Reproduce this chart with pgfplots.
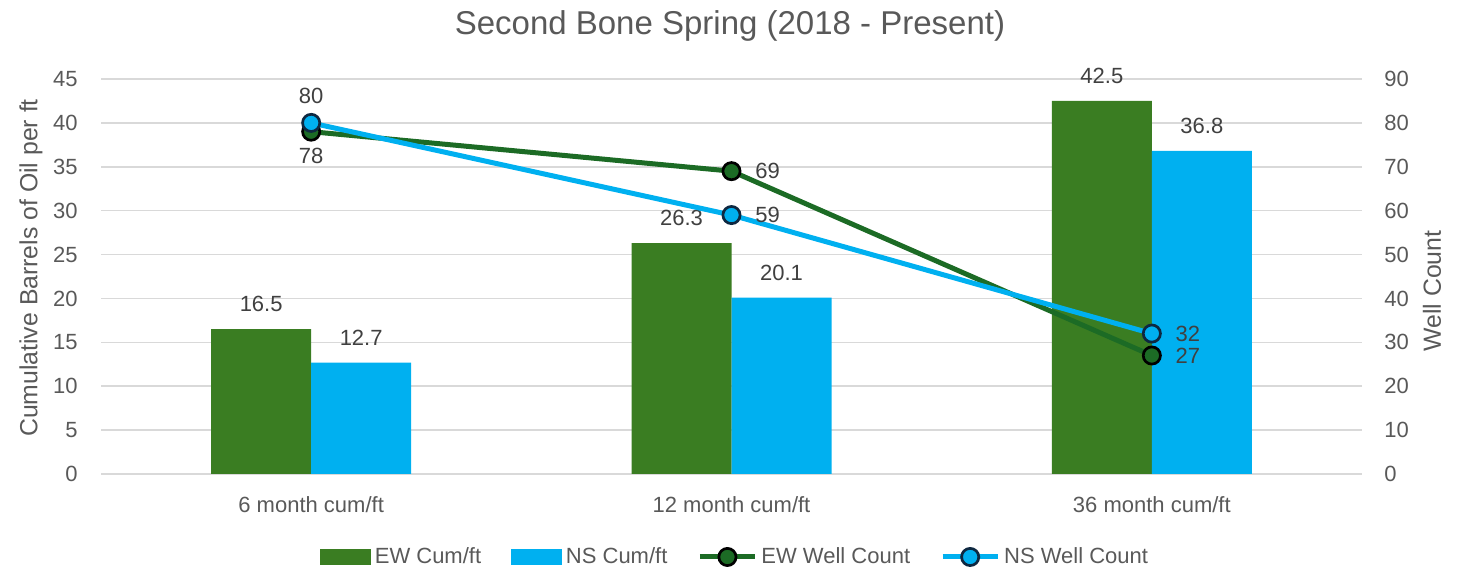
\documentclass[border=0pt]{standalone}
\usepackage{fontspec}
\setmainfont{Liberation Sans}
\usepackage{pgfplots}
\usepackage{pgfplotstable}
\pgfplotsset{compat=1.18}
\definecolor{ewbar}{HTML}{3A7D22}
\definecolor{nsbar}{HTML}{00B0F0}
\definecolor{ewline}{HTML}{1C6B25}
\definecolor{nsline}{HTML}{00B0F0}
\definecolor{nsedge}{HTML}{0E2841}
\definecolor{txt}{HTML}{595959}
\definecolor{lbl}{HTML}{404040}
\definecolor{gridc}{HTML}{D9D9D9}

\pgfplotsset{
  /pgf/number format/assume math mode=true,
  ewlegend/.style={legend image code/.code={\fill[ewbar] (0pt,-3.75pt) rectangle (25pt,3.75pt);}},
  nslegend/.style={legend image code/.code={\fill[nsbar] (0pt,-3.75pt) rectangle (25pt,3.75pt);}},
  linelegend/.style={legend image code/.code={\draw[mark repeat=2,mark phase=2,##1] plot coordinates {(0pt,0pt)(13.75pt,0pt)(27.5pt,0pt)};}},
}

\pgfplotstableread{
x ewc nsc ew ns ewdx ewdy nsdx nsdy
0 16.5 12.7 78 80 0 -12.3 0 13.5
1 26.3 20.1 69 59 18 0 18 0
2 42.5 36.8 27 32 18 0 18 0
}\data

\newcommand{\ff}{\fontsize{11}{13}\selectfont}
\newcommand{\fl}{\fontsize{12.4}{14}\selectfont}

\begin{document}
\begin{tikzpicture}
\useasboundingbox (0,0) rectangle (730pt,288.5pt);
\begin{axis}[
  at={(50.5pt,51.5pt)}, anchor=south west,
  width=630.5pt, height=197.5pt, scale only axis,
  clip=false,
  xmin=-0.5, xmax=2.5, ymin=0, ymax=45,
  ytick={0,5,...,45},
  xtick={0,1,2},
  xticklabels={6 month cum/ft,12 month cum/ft,36 month cum/ft},
  axis line style={draw=none},
  major tick length=0pt,
  ymajorgrids,
  major grid style={draw=gridc, line width=0.75pt},
  yticklabel style={anchor=east, inner sep=0pt, xshift=-11.5pt, font=\ff, text=txt},
  xticklabel style={anchor=base, inner sep=0pt, yshift=-19.5pt, font=\ff, text=txt},
  ylabel={Cumulative Barrels of Oil per ft},
  ylabel style={at={(axis description cs:-0.0555,0.5215)}, anchor=center, rotate=0, font=\fl, text=txt},
  title={Second Bone Spring (2018 - Present)},
  title style={at={(axis description cs:0.4988,1.1035)}, anchor=center, font=\fontsize{16.5}{19}\selectfont, text=txt},
]
\addplot[ybar, bar width=50pt, bar shift=-25pt, fill=ewbar, draw=none,
  nodes near coords, nodes near coords style={anchor=center, xshift=-25pt, yshift=12.5pt, font=\ff, text=lbl}]
  table[x=x, y=ewc]{\data};
\addplot[ybar, bar width=50pt, bar shift=25pt, fill=nsbar, draw=none,
  nodes near coords, nodes near coords style={anchor=center, xshift=25pt, yshift=12.5pt, font=\ff, text=lbl}]
  table[x=x, y=nsc]{\data};
\end{axis}

\begin{axis}[
  at={(50.5pt,51.5pt)}, anchor=south west,
  width=630.5pt, height=197.5pt, scale only axis,
  clip=false,
  xmin=-0.5, xmax=2.5, ymin=0, ymax=90,
  ytick={0,10,...,90},
  xtick=\empty,
  axis line style={draw=none},
  major tick length=0pt,
  yticklabel pos=right,
  yticklabel style={anchor=west, inner sep=0pt, xshift=11pt, font=\ff, text=txt},
  ylabel={Well Count},
  ylabel style={at={(axis description cs:1.0555,0.4633)}, anchor=center, rotate=0, font=\fl, text=txt},
  legend style={at={(axis description cs:0.5036,-0.2101)}, anchor=center, draw=none, fill=none,
    font=\ff, text=txt, legend columns=4,
    /tikz/every even column/.append style={column sep=13pt}},
  legend cell align=left,
]
\addlegendimage{ewlegend}
\addlegendentry{EW Cum/ft}
\addlegendimage{nslegend}
\addlegendentry{NS Cum/ft}
\addplot[linelegend, draw=ewline, line width=2.5pt, mark=*, mark size=4.3pt,
  mark options={solid, fill=ewline, draw=black, line width=1.35pt},
  visualization depends on={\thisrow{ewdx} \as \dx},
  visualization depends on={\thisrow{ewdy} \as \dy},
  nodes near coords, nodes near coords style={anchor=center, xshift=\dx pt, yshift=\dy pt, font=\ff, text=lbl}]
  table[x=x, y=ew]{\data};
\addlegendentry{EW Well Count}
\addplot[linelegend, draw=nsline, line width=2.5pt, mark=*, mark size=4.3pt,
  mark options={solid, fill=nsline, draw=nsedge, line width=1.35pt},
  visualization depends on={\thisrow{nsdx} \as \dx},
  visualization depends on={\thisrow{nsdy} \as \dy},
  nodes near coords, nodes near coords style={anchor=center, xshift=\dx pt, yshift=\dy pt, font=\ff, text=lbl}]
  table[x=x, y=ns]{\data};
\addlegendentry{NS Well Count}
\end{axis}
\end{tikzpicture}
\end{document}
